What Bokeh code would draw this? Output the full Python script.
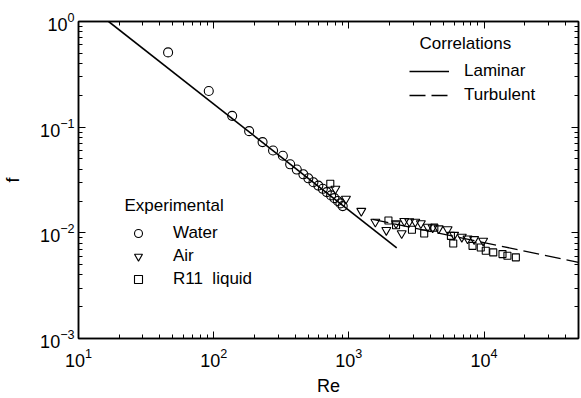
from bokeh.plotting import figure
from bokeh.models import (FixedTicker, LogAxis, Legend, LegendItem, Label, Range1d,
                          CustomJSTickFormatter)
from bokeh.embed import file_html
from bokeh.resources import INLINE

# ---- data ----
water_re = [46, 92, 137, 183, 230, 275, 325, 368, 412, 461, 502, 547, 595, 642,
            687, 739, 782, 828, 866, 901]
water_f = [0.51, 0.22, 0.128, 0.0917, 0.0722, 0.0602, 0.0537, 0.0445, 0.0397,
           0.0358, 0.0328, 0.0301, 0.0280, 0.0261, 0.0243, 0.0226, 0.0213,
           0.0200, 0.0190, 0.0179]

air_re = [795, 952, 1236, 1570, 1893, 2460, 2234, 2570, 2800, 3100, 3410, 3830,
          4170, 4620, 5380, 6010, 6850, 7550, 8450, 9850]
air_f = [0.0261, 0.0210, 0.0161, 0.0127, 0.0106, 0.0099, 0.0123, 0.0129, 0.0128,
         0.0127, 0.0123, 0.0114, 0.0112, 0.0110, 0.0108, 0.00955, 0.00915,
         0.00883, 0.00870, 0.00839]

r11_re = [729, 1963, 2234, 2930, 3610, 4290, 5690, 5920, 8220, 9460, 10300,
          11700, 13700, 14900, 17200]
r11_f = [0.0291, 0.0131, 0.0118, 0.0107, 0.00985, 0.0112, 0.00935, 0.00793,
         0.00753, 0.00727, 0.00676, 0.00653, 0.00629, 0.00607, 0.00586]

laminar_re = [16.7, 2260]
laminar_f = [1.0, 0.0072]
turbulent_re = [1500, 50000]
turbulent_f = [0.0134, 0.00526]

x_ticks = [10, 100, 1000, 10000]
y_ticks = [0.001, 0.01, 0.1, 1]
x_minor = [m * d for d in [10, 100, 1000, 10000] for m in range(2, 10) if m * d <= 50000]
y_minor = [m * d for d in [0.001, 0.01, 0.1] for m in range(2, 10)]

FONT = "Liberation Sans"

p = figure(width=581, height=398, x_axis_type="log", y_axis_type="log",
           x_range=Range1d(10, 5e4), y_range=Range1d(1e-3, 1),
           output_backend="svg", toolbar_location=None,
           min_border_left=77, min_border_right=3, min_border_top=21,
           min_border_bottom=58, background_fill_color="white",
           border_fill_color="white")
p.grid.visible = False
p.outline_line_color = "black"
p.outline_line_width = 1.5

lam = p.line(laminar_re, laminar_f, line_color="black", line_width=1.6)
tur = p.line(turbulent_re, turbulent_f, line_color="black", line_width=1.3,
             line_dash="16 6")
wat = p.scatter(water_re, water_f, marker="circle", size=9, fill_color=None,
                line_color="black", line_width=1.1)
air = p.scatter(air_re, air_f, marker="inverted_triangle", size=9, fill_color=None,
                line_color="black", line_width=1.1)
r11 = p.scatter(r11_re, r11_f, marker="square", size=7, fill_color=None,
                line_color="black", line_width=1.1)


def style_axis(ax, ticks, minor, labels=True):
    ax.ticker = FixedTicker(ticks=ticks, minor_ticks=minor)
    ax.axis_line_color = "black"
    ax.axis_line_width = 1.5
    ax.major_tick_in = 7
    ax.major_tick_out = 0
    ax.minor_tick_in = 4
    ax.minor_tick_out = 0
    ax.major_tick_line_width = 1
    ax.minor_tick_line_width = 1
    ax.major_tick_line_color = "black"
    ax.minor_tick_line_color = "black"
    if labels:
        ax.major_label_text_font = FONT
        ax.major_label_text_font_size = "18px"
        ax.major_label_text_color = "black"
        ax.axis_label_text_font = FONT
        ax.axis_label_text_font_size = "18px"
        ax.axis_label_text_font_style = "normal"
        ax.axis_label_text_color = "black"
    else:
        ax.formatter = CustomJSTickFormatter(code="return '';")
        ax.major_label_standoff = 0


style_axis(p.xaxis[0], x_ticks, x_minor)
style_axis(p.yaxis[0], y_ticks, y_minor)
p.xaxis[0].axis_label = "Re"
p.yaxis[0].axis_label = "f"
p.xaxis[0].major_label_standoff = 9
p.yaxis[0].major_label_standoff = 4
p.xaxis[0].axis_label_standoff = 6
p.yaxis[0].axis_label_standoff = 14

top = LogAxis()
right = LogAxis()
style_axis(top, x_ticks, x_minor, labels=False)
style_axis(right, y_ticks, y_minor, labels=False)
p.add_layout(top, "above")
p.add_layout(right, "right")

leg_corr = Legend(items=[LegendItem(label="Laminar", renderers=[lam]),
                         LegendItem(label="Turbulent", renderers=[tur])],
                  location=(331, 233), padding=0, margin=0, spacing=4,
                  glyph_width=40, glyph_height=20, label_standoff=15,
                  label_text_font=FONT, label_text_font_size="17px",
                  label_text_color="black",
                  border_line_color=None, background_fill_alpha=0)
leg_exp = Legend(items=[LegendItem(label="Water", renderers=[wat]),
                        LegendItem(label="Air", renderers=[air]),
                        LegendItem(label="R11  liquid", renderers=[r11])],
                 location=(50, 49), padding=0, margin=0, spacing=3,
                 glyph_width=20, glyph_height=20, label_standoff=25,
                 label_text_font=FONT, label_text_font_size="17px",
                 label_text_color="black",
                 border_line_color=None, background_fill_alpha=0)
p.add_layout(leg_corr, "center")
p.add_layout(leg_exp, "center")

p.add_layout(Label(x=341, y=295, x_units="screen", y_units="screen",
                   text="Correlations", text_font=FONT, text_font_size="17px",
                   text_baseline="middle", text_color="black"))
p.add_layout(Label(x=46, y=133, x_units="screen", y_units="screen",
                   text="Experimental", text_font=FONT, text_font_size="17px",
                   text_baseline="middle", text_color="black"))

open("out.html", "w").write(file_html(p, INLINE))
